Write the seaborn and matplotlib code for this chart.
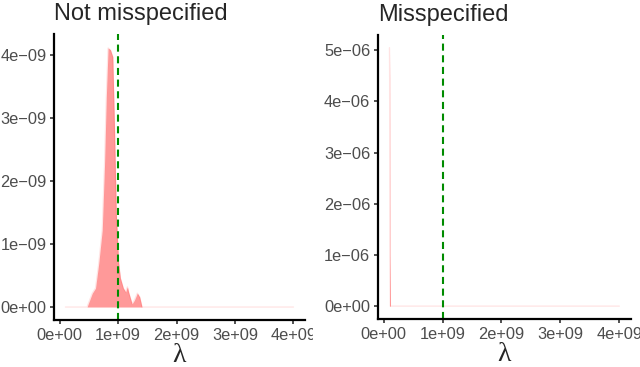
import seaborn as sns
import matplotlib.pyplot as plt
import pandas as pd
from matplotlib.transforms import Bbox

# density curves (lambda in 1e9, density in panel units)
lam_ok = [0.10, 0.47, 0.56, 0.615, 0.67, 0.73, 0.77, 0.80, 0.83, 0.87, 0.91, 0.94,
          0.97, 1.01, 1.04, 1.09, 1.13, 1.16, 1.18, 1.24, 1.28, 1.33, 1.37, 1.41, 4.00]
dens_ok = [0.0, 0.0, 0.22, 0.30, 0.69, 1.22, 2.28, 3.34, 4.11, 4.08, 3.97, 2.81,
           1.49, 0.70, 0.46, 0.30, 0.24, 0.32, 0.24, 0.05, 0.11, 0.22, 0.16, 0.0, 0.0]  # 1e-09

lam_mis = [0.100, 0.103, 0.107, 0.115, 4.00]
dens_mis = [5.05, 4.45, 1.00, 0.0, 0.0]  # 1e-06

true_lambda = 1e9
titles = ["Not misspecified", "Misspecified"]
x_ticks = [0, 1e9, 2e9, 3e9, 4e9]
x_labels = ["0e+00", "1e+09", "2e+09", "3e+09", "4e+09"]
y_ticks_ok = [0, 1e-9, 2e-9, 3e-9, 4e-9]
y_labels_ok = ["0e+00", "1e\u221209", "2e\u221209", "3e\u221209", "4e\u221209"]
y_ticks_mis = [0, 1e-6, 2e-6, 3e-6, 4e-6, 5e-6]
y_labels_mis = ["0e+00", "1e\u221206", "2e\u221206", "3e\u221206", "4e\u221206", "5e\u221206"]

sns.set_theme(style="ticks")
plt.rcParams['font.family'] = ['Liberation Sans', 'DejaVu Sans']

df_ok = pd.DataFrame({"lam": [v * 1e9 for v in lam_ok], "dens": [v * 1e-9 for v in dens_ok]})
df_mis = pd.DataFrame({"lam": [v * 1e9 for v in lam_mis], "dens": [v * 1e-6 for v in dens_mis]})

fig = plt.figure(figsize=(6.4, 3.67), dpi=100)
ax1 = fig.add_axes([0.0844, 0.128, 0.392, 0.779])
ax2 = fig.add_axes([0.5906, 0.131, 0.395, 0.774])

panels = [(ax1, df_ok, y_ticks_ok, y_labels_ok, (-0.206e-9, 4.33e-9)),
          (ax2, df_mis, y_ticks_mis, y_labels_mis, (-0.25e-6, 5.3e-6))]

for i, (ax, df, yt, yl, ylim) in enumerate(panels):
    ax.fill_between(df["lam"], df["dens"], color="red", alpha=0.4, linewidth=0)
    sns.lineplot(data=df, x="lam", y="dens", ax=ax, color="red", alpha=0.1, linewidth=1)
    ax.axvline(true_lambda, color="#008B00", linestyle=(0, (3.4, 2.2)), linewidth=1.5)
    ax.set_xlim(-0.095e9, 4.195e9)
    ax.set_ylim(*ylim)
    ax.set_xticks(x_ticks)
    ax.set_xticklabels(x_labels)
    ax.set_yticks(yt)
    ax.set_yticklabels(yl)
    ax.tick_params(axis="both", labelsize=11.8, labelcolor="#4D4D4D", color="#333333",
                   length=3, width=1.2, pad=2.5)
    ax.set_xlabel("\u03bb", fontsize=20, family=["Liberation Serif", "DejaVu Serif"], labelpad=0)
    ax.set_ylabel("")
    ax.set_title(titles[i], loc="left", fontsize=17, pad=10)
    for s in ["left", "bottom"]:
        ax.spines[s].set_linewidth(1.6)
        ax.spines[s].set_color("black")
    sns.despine(ax=ax)

# left panel's last x label is cut at the panel edge, as in the reference
clip = Bbox([[0, 0], [313, 367]])
for lab in ax1.get_xticklabels():
    lab.set_clip_box(clip)
    lab.set_clip_on(True)

fig.savefig("out.png", dpi=100)
